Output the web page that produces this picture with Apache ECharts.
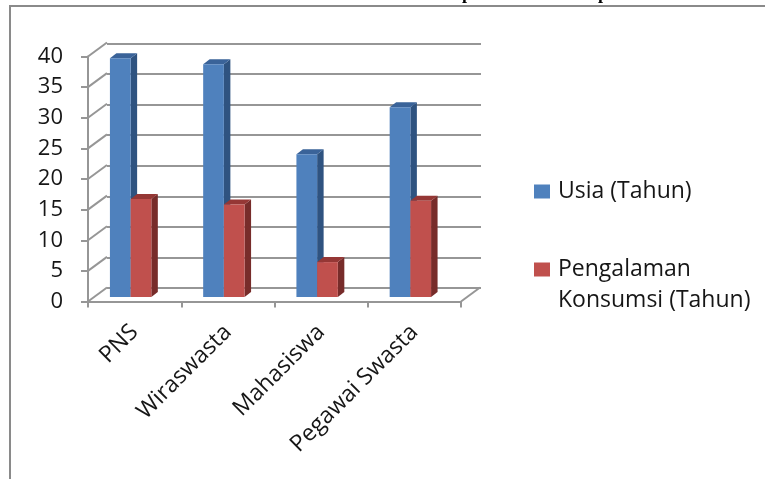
<!DOCTYPE html>
<html>
<head>
<meta charset="utf-8">
<style>
  html, body { margin: 0; padding: 0; background: #fff; }
  #main { width: 765px; height: 479px; }
</style>
<script src="https://cdn.jsdelivr.net/npm/echarts@6/dist/echarts.min.js"></script>
</head>
<body>
<div id="main"></div>
<script>
var categories = ['PNS', 'Wiraswasta', 'Mahasiswa', 'Pegawai Swasta'];
var usia = [39, 38, 23.3, 31];
var pengalaman = [16, 15.1, 5.7, 15.7];
var yTicks = [0, 5, 10, 15, 20, 25, 30, 35, 40];

var labelFont = '"Open Sans", "Noto Sans", sans-serif';
var lineColor = '#969696';
var textColor = '#161616';

var chart = echarts.init(document.getElementById('main'));

// fake 3d: three grids with the same scale, front axes / back wall / bar plane
function grid(left, right, top, bottom) {
  return { left: left, width: right - left, top: top, height: bottom - top };
}

function wallItem(params, api) {
  var v = api.value(0);
  var rect = params.coordSys;
  var p = api.coord([0, v]);
  var x0 = rect.x;
  var children = [{
    type: 'line',
    shape: { x1: x0, y1: p[1], x2: x0 + 19, y2: p[1] - 14 },
    style: { stroke: lineColor, lineWidth: 2 }
  }];
  if (v === 0) {
    children.push({
      type: 'line',
      shape: { x1: x0 + rect.width, y1: p[1], x2: x0 + rect.width + 19, y2: p[1] - 14 },
      style: { stroke: lineColor, lineWidth: 2 }
    });
  }
  return { type: 'group', children: children };
}

function barItem(offset, colors) {
  return function (params, api) {
    var i = api.value(0);
    var top = api.coord([i, api.value(1)]);
    var base = api.coord([i, 0]);
    var w = api.size([1, 0])[0] * 0.222;
    var x = top[0] - w + offset * w;
    var d = 6.5, h = 5;
    return {
      type: 'group',
      children: [
        {
          type: 'polygon',
          shape: { points: [[x + w, top[1]], [x + w + d, top[1] - h], [x + w + d, base[1] - h], [x + w, base[1]]] },
          style: { fill: colors.side }
        },
        {
          type: 'polygon',
          shape: { points: [[x, top[1]], [x + d, top[1] - h], [x + w + d, top[1] - h], [x + w, top[1]]] },
          style: { fill: colors.top }
        },
        {
          type: 'rect',
          shape: { x: x, y: top[1], width: w, height: base[1] - top[1] },
          style: { fill: colors.front }
        }
      ]
    };
  };
}

var option = {
  animation: false,
  backgroundColor: '#fff',
  textStyle: { fontFamily: labelFont },
  grid: [
    grid(88, 461, 56.5, 301.5),
    grid(107, 481, 43.5, 288),
    grid(84, 457, 52, 297)
  ],
  xAxis: [
    {
      gridIndex: 0,
      type: 'category',
      data: categories,
      axisLine: { lineStyle: { color: lineColor, width: 2 } },
      axisTick: { show: true, length: 6, alignWithLabel: false, lineStyle: { color: lineColor, width: 2 } },
      axisLabel: { rotate: 45, fontSize: 23, color: textColor, margin: 27, interval: 0, fontFamily: labelFont }
    },
    { gridIndex: 1, type: 'category', data: categories, show: false },
    { gridIndex: 2, type: 'category', data: categories, show: false }
  ],
  yAxis: [
    {
      gridIndex: 0,
      type: 'value',
      min: 0,
      max: 40,
      interval: 5,
      axisLine: { show: true, lineStyle: { color: lineColor, width: 2 } },
      axisTick: { show: true, length: 7, lineStyle: { color: lineColor, width: 2 } },
      splitLine: { show: false },
      axisLabel: { fontSize: 22, color: textColor, margin: 25, fontFamily: labelFont }
    },
    {
      gridIndex: 1,
      type: 'value',
      min: 0,
      max: 40,
      interval: 5,
      axisLine: { show: false },
      axisTick: { show: false },
      axisLabel: { show: false },
      splitLine: { show: true, lineStyle: { color: lineColor, width: 2 } }
    },
    { gridIndex: 2, type: 'value', min: 0, max: 40, interval: 5, show: false }
  ],
  legend: [
    {
      data: ['Usia (Tahun)'],
      left: 534,
      top: 180,
      orient: 'vertical',
      icon: 'rect',
      itemWidth: 16,
      itemHeight: 14,
      itemGap: 0,
      padding: 0,
      selectedMode: false,
      textStyle: { fontSize: 23, color: textColor, fontFamily: labelFont, padding: [0, 0, 0, 3] }
    },
    {
      data: ['Pengalaman\nKonsumsi (Tahun)'],
      left: 534,
      top: 223,
      orient: 'vertical',
      icon: 'rect',
      itemWidth: 16,
      itemHeight: 14,
      itemGap: 0,
      padding: 0,
      selectedMode: false,
      // blank first line keeps the icon level with the first text line
      formatter: function (name) { return '\n' + name; },
      textStyle: { fontSize: 23, lineHeight: 31, color: textColor, fontFamily: labelFont, padding: [0, 0, 0, 3] }
    }
  ],
  series: [
    {
      name: 'wall',
      type: 'custom',
      xAxisIndex: 0,
      yAxisIndex: 0,
      silent: true,
      z: 1,
      data: yTicks.map(function (t) { return [t]; }),
      encode: { y: 0 },
      renderItem: wallItem
    },
    {
      name: 'Usia (Tahun)',
      type: 'custom',
      xAxisIndex: 2,
      yAxisIndex: 2,
      z: 3,
      itemStyle: { color: '#4F81BD' },
      data: usia.map(function (v, i) { return [i, v]; }),
      encode: { x: 0, y: 1 },
      renderItem: barItem(0, { front: '#4F81BD', side: '#2F5380', top: '#3A6399' })
    },
    {
      name: 'Pengalaman\nKonsumsi (Tahun)',
      type: 'custom',
      xAxisIndex: 2,
      yAxisIndex: 2,
      z: 4,
      itemStyle: { color: '#C0504D' },
      data: pengalaman.map(function (v, i) { return [i, v]; }),
      encode: { x: 0, y: 1 },
      renderItem: barItem(1, { front: '#C0504D', side: '#772C2A', top: '#953735' })
    }
  ],
  graphic: [
    { type: 'line', silent: true, shape: { x1: 10, y1: 6, x2: 765, y2: 6 }, style: { stroke: '#8a8a8a', lineWidth: 2 } },
    { type: 'line', silent: true, shape: { x1: 10, y1: 5, x2: 10, y2: 479 }, style: { stroke: '#8a8a8a', lineWidth: 2 } },
    { type: 'text', silent: true, x: 462, y: 3, style: { text: 'p', font: 'bold 18px "Liberation Serif"', fill: '#000', verticalAlign: 'bottom' } },
    { type: 'text', silent: true, x: 598, y: 3, style: { text: 'p', font: 'bold 18px "Liberation Serif"', fill: '#000', verticalAlign: 'bottom' } }
  ]
};

chart.setOption(option);
</script>
</body>
</html>
